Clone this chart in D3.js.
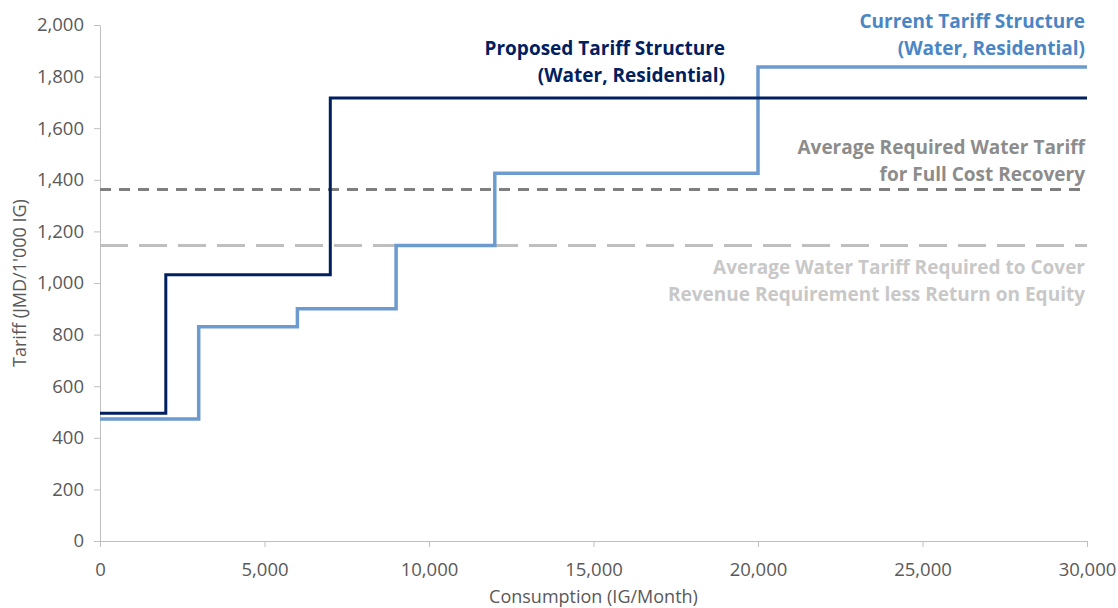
<!DOCTYPE html>
<html>
<head>
<meta charset="utf-8">
<script src="https://cdn.jsdelivr.net/npm/d3@7"></script>
<style>
  body { margin: 0; background: #fff; }
  text { font-family: "Open Sans", "Noto Sans", sans-serif; }
</style>
</head>
<body>
<svg id="chart" width="1118" height="608"></svg>
<script>
// step breakpoints (IG/month) and tariffs (JMD per 1'000 IG)
const proposedX = [0, 2000, 7000, 30000];
const proposedY = [495, 1032, 1717];
const currentX = [0, 3000, 6000, 9000, 12000, 20000, 30000];
const currentY = [473, 830, 900, 1145, 1425, 1837];
const fullCostRecovery = 1362;
const lessReturnOnEquity = 1145;
const xTicks = [0, 5000, 10000, 15000, 20000, 25000, 30000];
const yTicks = [0, 200, 400, 600, 800, 1000, 1200, 1400, 1600, 1800, 2000];

const svg = d3.select('#chart');
const margin = { left: 100, right: 31, top: 25, bottom: 67 };
const width = 1118, height = 608;

const x = d3.scaleLinear().domain([0, 30000]).range([margin.left, width - margin.right]);
const y = d3.scaleLinear().domain([0, 2000]).range([height - margin.bottom, margin.top]);

const fmt = d3.format(',');

// axes
const xAxis = svg.append('g')
  .attr('transform', `translate(0,${y(0)})`)
  .call(d3.axisBottom(x).tickValues(xTicks).tickFormat(fmt).tickSize(6).tickSizeOuter(0));
const yAxis = svg.append('g')
  .attr('transform', `translate(${x(0)},0)`)
  .call(d3.axisLeft(y).tickValues(yTicks).tickFormat(fmt).tickSize(6).tickSizeOuter(0));

[xAxis, yAxis].forEach(g => {
  g.select('.domain').attr('stroke', '#bfbfbf');
  g.selectAll('.tick line').attr('stroke', '#bfbfbf');
  g.selectAll('.tick text').attr('fill', '#595959').style('font-size', '18.5px')
    .style('font-family', '"Open Sans", sans-serif');
});
xAxis.selectAll('.tick text').attr('y', 18).attr('dy', '0.9em');
yAxis.selectAll('.tick text').attr('dx', '-7px');

// axis titles
svg.append('text')
  .attr('x', (x(0) + x(30000)) / 2).attr('y', 603)
  .attr('text-anchor', 'middle').attr('fill', '#595959').style('font-size', '18px')
  .text('Consumption (IG/Month)');
svg.append('text')
  .attr('transform', `translate(26,${(y(0) + y(2000)) / 2}) rotate(-90)`)
  .attr('text-anchor', 'middle').attr('fill', '#595959').style('font-size', '18px')
  .text("Tariff (JMD/1'000 IG)");

// reference lines
svg.append('line')
  .attr('x1', x(0)).attr('x2', x(30000))
  .attr('y1', y(lessReturnOnEquity)).attr('y2', y(lessReturnOnEquity))
  .attr('stroke', '#bfbfbf').attr('stroke-width', 3).attr('stroke-dasharray', '28,11');
svg.append('line')
  .attr('x1', x(0)).attr('x2', x(30000))
  .attr('y1', y(fullCostRecovery)).attr('y2', y(fullCostRecovery))
  .attr('stroke', '#7f7f7f').attr('stroke-width', 3).attr('stroke-dasharray', '11,8');

// step lines
function stepPoints(xs, ys) {
  const pts = [];
  ys.forEach((v, i) => {
    pts.push([xs[i], v]);
    pts.push([xs[i + 1], v]);
  });
  return pts;
}
const line = d3.line().x(d => x(d[0])).y(d => y(d[1]));

svg.append('path')
  .datum(stepPoints(currentX, currentY))
  .attr('d', line).attr('fill', 'none')
  .attr('stroke', '#6d9bd0').attr('stroke-width', 3.5);
svg.append('path')
  .datum(stepPoints(proposedX, proposedY))
  .attr('d', line).attr('fill', 'none')
  .attr('stroke', '#002060').attr('stroke-width', 3);

// labels
function label(lines, xr, y0, color) {
  const t = svg.append('text')
    .attr('text-anchor', 'end').attr('fill', color)
    .style('font-size', '19px').style('font-weight', 'bold');
  lines.forEach((s, i) => {
    t.append('tspan').attr('x', xr).attr('y', y0 + i * 27).text(s);
  });
}
label(['Proposed Tariff Structure', '(Water, Residential)'], 725, 55, '#002060');
label(['Current Tariff Structure', '(Water, Residential)'], 1085, 28, '#4a86c5');
label(['Average Required Water Tariff', 'for Full Cost Recovery'], 1085, 154, '#8c8c8c');
label(['Average Water Tariff Required to Cover', 'Revenue Requirement less Return on Equity'], 1085, 274, '#c8c8c8');
</script>
</body>
</html>
